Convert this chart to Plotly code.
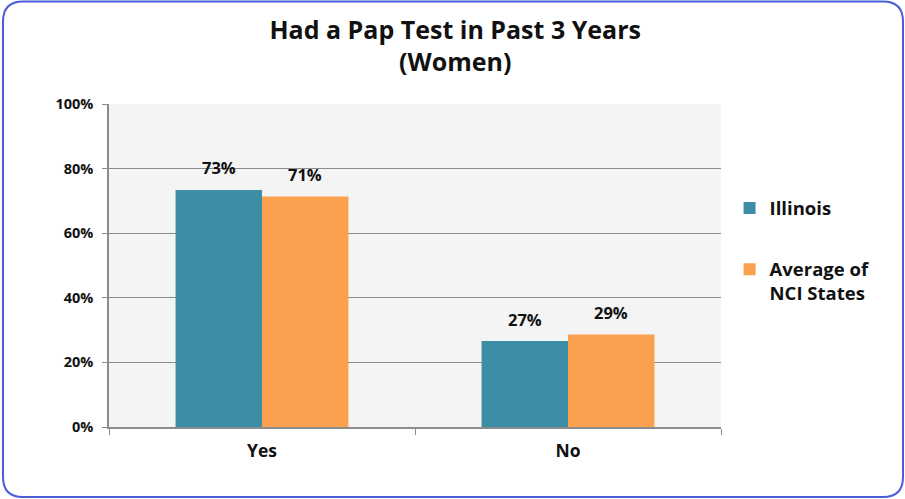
import plotly.graph_objects as go

categories = ["Yes", "No"]
illinois = [73.4, 26.6]
nci_avg = [71.4, 28.6]
series_names = ["Illinois", "Average of<br>NCI States"]
colors = ["#3B8EA6", "#FBA04F"]
y_ticks = [0, 20, 40, 60, 80, 100]

W, H = 905, 499
ML, MR, MT, MB = 109, 184, 104, 72
PW, PH = W - ML - MR, H - MT - MB
BARGAP = 0.435
FONT = "Open Sans"

fig = go.Figure()
for i, (name, vals, col) in enumerate(zip(series_names, [illinois, nci_avg], colors)):
    label = "<b>" + name.replace("<br>", "</b><br><b>") + "</b>"
    fig.add_trace(go.Bar(x=categories, y=vals, name=label, legendgroup=f"g{i}",
                         marker=dict(color=col, line=dict(width=0))))

# value labels above bars
bar_px = PW / len(categories) * (1 - BARGAP) / 2
for i, vals in enumerate([illinois, nci_avg]):
    shift = (i - 0.5) * bar_px
    for c, v in zip(categories, vals):
        fig.add_annotation(x=c, y=v, text=f"<b>{v:.0f}%</b>", showarrow=False,
                           xshift=shift, yshift=22, yanchor="middle",
                           font=dict(family=FONT, size=16.5, color="#111"))

def P(x, y):
    a, b = (x - ML) / PW, (H - MB - y) / PH
    return f"{a:.5f},{b:.5f}"

# rounded border
x0, y0, x1, y1, r = 3, 1.5, 903, 497, 20
path = (f"M {P(x0+r, y0)} L {P(x1-r, y0)} Q {P(x1, y0)} {P(x1, y0+r)} "
        f"L {P(x1, y1-r)} Q {P(x1, y1)} {P(x1-r, y1)} L {P(x0+r, y1)} "
        f"Q {P(x0, y1)} {P(x0, y1-r)} L {P(x0, y0+r)} Q {P(x0, y0)} {P(x0+r, y0)} Z")
fig.add_shape(type="path", path=path, xref="paper", yref="paper",
              line=dict(color="#4A5EDB", width=2), layer="above")

fig.update_layout(
    width=W, height=H,
    margin=dict(l=ML, r=MR, t=MT, b=MB),
    paper_bgcolor="white", plot_bgcolor="#F4F4F4",
    barmode="group", bargap=BARGAP, bargroupgap=0,
    title=dict(text="<b>Had a Pap Test in Past 3 Years<br>(Women)</b>", x=0.503, xanchor="center",
               y=0.922, yanchor="top", font=dict(family=FONT, size=25, color="#111")),
    font=dict(family=FONT, color="#111"),
    xaxis=dict(showline=True, linecolor="#8C8C8C", linewidth=1.5, ticks="outside", tickson="boundaries",
               ticklen=6, tickcolor="#8C8C8C", tickfont=dict(size=17.5, family=FONT),
               tickprefix="<b>", ticksuffix="</b>", ticklabelstandoff=7),
    yaxis=dict(range=[0, 100], tickvals=y_ticks, ticktext=[f"<b>{t}%</b>" for t in y_ticks],
               showline=True, linecolor="#8C8C8C", linewidth=1.5, ticks="outside", ticklen=5,
               tickcolor="#8C8C8C", gridcolor="#8C8C8C", gridwidth=1,
               tickfont=dict(size=14.5, family=FONT), zeroline=False, ticklabelstandoff=6),
    legend=dict(x=1.014, xanchor="left", y=0.735, yanchor="top", valign="top",
                tracegroupgap=34, traceorder="grouped",
                font=dict(family=FONT, size=18.5, color="#111"), bgcolor="rgba(0,0,0,0)"),
)

fig.write_html("out.html", config={"displayModeBar": False},
               post_script="document.body.style.margin='0';document.body.style.overflow='hidden';")
